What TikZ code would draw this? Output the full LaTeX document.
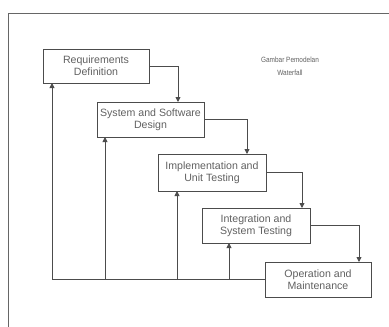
\documentclass[tikz,border=0pt]{standalone}
\usepackage{fontspec}
\setmainfont{Liberation Sans}
\usetikzlibrary{arrows.meta}
\begin{document}
\begin{tikzpicture}[x=1pt,y=-1pt,
  box/.style={draw=black!70,line width=0.9pt,fill=white,align=center,inner sep=0pt,
    font=\fontsize{10.6}{12}\selectfont,text=black!62},
  conn/.style={draw=black!70,line width=0.9pt},
  arr/.style={conn,-{Triangle[length=5pt,width=5pt]}}]
\useasboundingbox (0,0) rectangle (389,327);
\draw[black!60,line width=1pt] (8,327) -- (8,13) -- (389,13);
\node[box,minimum width=106pt,minimum height=34pt] (b1) at (96,66) {Requirements\\Definition};
\node[box,minimum width=107pt,minimum height=35pt] (b2) at (150.5,119.5) {System and Software\\Design};
\node[box,minimum width=108pt,minimum height=37pt] (b3) at (212,172.5) {Implementation and\\Unit Testing};
\node[box,minimum width=108pt,minimum height=35pt] (b4) at (256,225.5) {Integration and\\System Testing};
\node[box,minimum width=106pt,minimum height=35pt] (b5) at (318,279.5) {Operation and\\Maintenance};
\node[align=center,font=\fontsize{7.6}{13}\selectfont,text=black!62,xscale=0.85,transform shape] (title) at (290,66.5) {Gambar Pemodelan\\Waterfall};
% forward flow
\coordinate (t2) at (178,102);
\coordinate (t3) at (247,154);
\coordinate (t4) at (302,208);
\coordinate (t5) at (359,262);
\draw[arr] (b1.east) -| (t2);
\draw[arr] (b2.east) -| (t3);
\draw[arr] (b3.east) -| (t4);
\draw[arr] (b4.east) -| (t5);
% feedback
\coordinate (f1) at (52,279.5);
\coordinate (f2) at (105,279.5);
\coordinate (f3) at (177,279.5);
\coordinate (f4) at (229,279.5);
\coordinate (u1) at (52,83);
\coordinate (u2) at (105,137);
\coordinate (u3) at (177,191);
\coordinate (u4) at (229,243);
\draw[conn] (b5.west) -- (f1);
\draw[arr] (f1) -- (u1);
\draw[arr] (f2) -- (u2);
\draw[arr] (f3) -- (u3);
\draw[arr] (f4) -- (u4);
\end{tikzpicture}
\end{document}
